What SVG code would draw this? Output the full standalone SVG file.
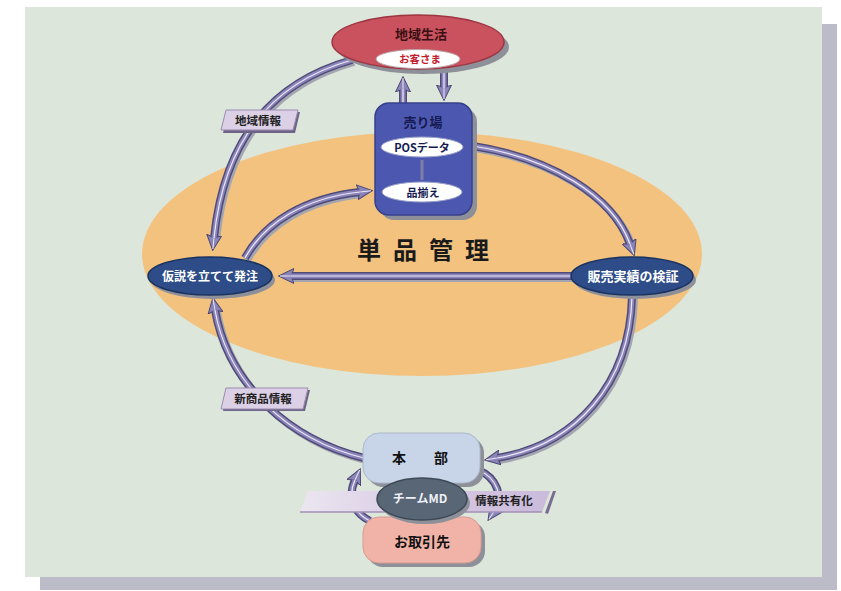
<svg xmlns="http://www.w3.org/2000/svg" width="841" height="591" viewBox="0 0 841 591">
<defs>
<marker id="ah" markerUnits="userSpaceOnUse" markerWidth="16" markerHeight="16" viewBox="0 0 16 16" refX="3" refY="8" orient="auto">
<path d="M0,0.5 L15.5,8 L0,15.5 L3,8 Z" fill="#8a84b8" stroke="#4b4672" stroke-width="1"/>
<path d="M3,8 L14,8" stroke="#ece8f6" stroke-width="1"/>
</marker>
<linearGradient id="band" x1="0" x2="1" y1="0" y2="0">
<stop offset="0" stop-color="#ece6f1"/>
<stop offset="0.5" stop-color="#d6c8e2"/>
<stop offset="1" stop-color="#cbbbdb"/>
</linearGradient>
</defs>
<style>
.t{font-family:"Noto Sans CJK JP","Noto Sans",sans-serif;font-weight:700;text-anchor:middle}
.sh{fill:#8d9099}
.ash{fill:none;stroke:#a3a5b0;stroke-width:8}
.aout{fill:none;stroke:#4f4a78;stroke-width:8;marker-end:url(#ah)}
.ain{fill:none;stroke:#8a84b8;stroke-width:5}
.ahl{fill:none;stroke:#ece8f6;stroke-width:1.2}
.lbl{fill:#dcd0e7;stroke:#9a8cb0;stroke-width:1}
.lsh{fill:#6e6486}
</style>
<rect width="841" height="591" fill="#ffffff"/>
<rect x="40" y="24" width="797" height="566" fill="#bcbcc8"/>
<rect x="25" y="7" width="797" height="570" fill="#dce6da"/>
<ellipse cx="422" cy="254" rx="280" ry="122" fill="#f3c27f"/>
<text class="t" x="357" y="259" font-size="24" fill="#1a1a1a" style="text-anchor:start;letter-spacing:12px">単品管理</text>

<g id="connectors">
<path id="c1" d="M352,60 C280,80 225,130 214,238" class="ash" transform="translate(2,2)"/>
<path d="M352,60 C280,80 225,130 214,238" class="aout"/>
<path d="M352,60 C280,80 225,130 214,238" class="ain"/>
<path d="M352,60 C280,80 225,130 214,238" class="ahl"/>

<path d="M245,258 C265,222 305,198 360,192" class="ash" transform="translate(2,2)"/>
<path d="M245,258 C265,222 305,198 360,192" class="aout"/>
<path d="M245,258 C265,222 305,198 360,192" class="ain"/>
<path d="M245,258 C265,222 305,198 360,192" class="ahl"/>

<path d="M473,146 C550,158 612,195 630,244" class="ash" transform="translate(2,2)"/>
<path d="M473,146 C550,158 612,195 630,244" class="aout"/>
<path d="M473,146 C550,158 612,195 630,244" class="ain"/>
<path d="M473,146 C550,158 612,195 630,244" class="ahl"/>

<path d="M632,296 C630,385 575,445 497,458" class="ash" transform="translate(2,2)"/>
<path d="M632,296 C630,385 575,445 497,458" class="aout"/>
<path d="M632,296 C630,385 575,445 497,458" class="ain"/>
<path d="M632,296 C630,385 575,445 497,458" class="ahl"/>

<path d="M364,458 C290,440 228,385 215,310" class="ash" transform="translate(2,2)"/>
<path d="M364,458 C290,440 228,385 215,310" class="aout"/>
<path d="M364,458 C290,440 228,385 215,310" class="ain"/>
<path d="M364,458 C290,440 228,385 215,310" class="ahl"/>

<path d="M572,276 L291,276" class="ash" transform="translate(2,2)"/>
<path d="M572,276 L291,276" class="aout"/>
<path d="M572,276 L291,276" class="ain"/>
<path d="M572,276 L291,276" class="ahl"/>

<path d="M403,104 L403,89" class="aout"/>
<path d="M403,104 L403,89" class="ain"/>
<path d="M403,104 L403,89" class="ahl"/>

<path d="M444,72 L444,88" class="aout"/>
<path d="M444,72 L444,88" class="ain"/>
<path d="M444,72 L444,88" class="ahl"/>

<path d="M370,521 C352,512 348,495 355,480" class="aout"/>
<path d="M370,521 C352,512 348,495 355,480" class="ain"/>
<path d="M370,521 C352,512 348,495 355,480" class="ahl"/>

<path d="M478,470 C498,478 503,498 495,510" class="aout"/>
<path d="M478,470 C498,478 503,498 495,510" class="ain"/>
<path d="M478,470 C498,478 503,498 495,510" class="ahl"/>
</g>

<g id="label-chiiki-joho">
<polygon class="lsh" points="228,112 300,112 295,133 223,133"/>
<polygon class="lbl" points="226,110 298,110 293,130 221,130"/>
<text class="t" x="258" y="125" font-size="11.5" fill="#222">地域情報</text>
</g>
<g id="label-shinshohin">
<polygon class="lsh" points="228,390 310,390 305,411 223,411"/>
<polygon class="lbl" points="226,388 308,388 303,409 221,409"/>
<text class="t" x="263" y="403" font-size="11.5" fill="#222">新商品情報</text>
</g>

<g id="chiiki-seikatsu">
<ellipse class="sh" cx="423" cy="47" rx="86" ry="27"/>
<ellipse cx="418" cy="42" rx="86" ry="27" fill="#c9525e" stroke="#9e3542" stroke-width="1.5"/>
<text class="t" x="421" y="39" font-size="13" fill="#3a1014">地域生活</text>
<ellipse cx="418" cy="59" rx="42" ry="9.5" fill="#ffffff" stroke="#b9a3a6"/>
<text class="t" x="420" y="63" font-size="10.5" fill="#c41e2c">お客さま</text>
</g>

<g id="uriba">
<rect class="sh" x="380" y="108" width="97" height="112" rx="14"/>
<rect x="375" y="103" width="97" height="112" rx="14" fill="#4c58b0" stroke="#36408a" stroke-width="1.5"/>
<text class="t" x="423" y="127" font-size="13" fill="#141a50">売り場</text>
<ellipse cx="422" cy="147" rx="41" ry="10" fill="#ffffff" stroke="#9aa0c8"/>
<text class="t" x="422" y="152" font-size="11" fill="#141a50">POSデータ</text>
<path d="M422,160 L422,180" stroke="#7d7fa8" stroke-width="3"/>
<ellipse cx="422" cy="192" rx="40" ry="10" fill="#ffffff" stroke="#9aa0c8"/>
<text class="t" x="423" y="197" font-size="11" fill="#141a50">品揃え</text>
</g>

<g id="kasetsu">
<ellipse class="sh" cx="213" cy="280" rx="62" ry="19"/>
<ellipse cx="210" cy="276" rx="62" ry="19" fill="#2e4d88" stroke="#1a3260" stroke-width="1.5"/>
<text class="t" x="210" y="281" font-size="12" fill="#ffffff">仮説を立てて発注</text>
</g>

<g id="hanbai">
<ellipse class="sh" cx="635" cy="280" rx="61" ry="19"/>
<ellipse cx="632" cy="276" rx="61" ry="19" fill="#2e4d88" stroke="#1a3260" stroke-width="1.5"/>
<text class="t" x="633" y="281" font-size="13" fill="#ffffff">販売実績の検証</text>
</g>

<g id="honbu">
<rect class="sh" x="367" y="437" width="117" height="50" rx="16"/>
<rect x="363" y="433" width="117" height="50" rx="16" fill="#c8d5e8" stroke="#aab8cc"/>
<text class="t" x="420" y="463" font-size="14" fill="#111">本　　部</text>
</g>

<g id="torihikisaki">
<rect class="sh" x="367" y="521" width="118" height="46" rx="16"/>
<rect x="363" y="517" width="118" height="46" rx="16" fill="#f1b3a8" stroke="#d99a90"/>
<text class="t" x="422" y="547" font-size="14" fill="#111">お取引先</text>
</g>

<g id="joho-kyoyuka">
<polygon points="545,513 553,491 556,491 548,514" fill="#7a6c90"/>
<polygon points="300,512 308,491 550,491 542,512" fill="url(#band)"/>
<path d="M300,512 L542,512" stroke="#a090b4" stroke-width="1.5"/>
<text class="t" x="504" y="505" font-size="11.5" fill="#222">情報共有化</text>
</g>

<g id="team-md">
<ellipse class="sh" cx="425" cy="503" rx="45" ry="21"/>
<ellipse cx="422" cy="499" rx="45" ry="21" fill="#586676" stroke="#3d4856" stroke-width="1.5"/>
<text class="t" x="420" y="503" font-size="12" fill="#eef0f8">チームMD</text>
</g>
</svg>
